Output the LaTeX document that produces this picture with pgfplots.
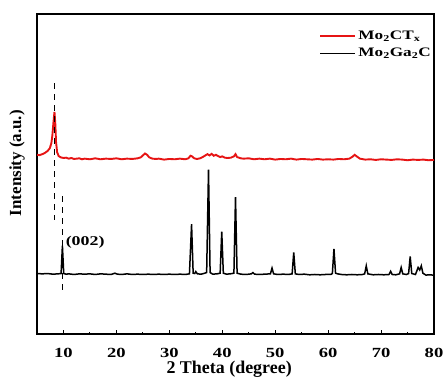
\documentclass[border=0pt]{standalone}
\usepackage{fontspec}
\setmainfont{Liberation Serif}
\newfontfamily\wide{Liberation Serif}[FakeStretch=1.33]
\usepackage{pgfplots}
\pgfplotsset{compat=1.18}
\definecolor{xred}{RGB}{230,20,20}
\begin{document}
\begin{tikzpicture}
\begin{axis}[name=ax, scale only axis, width=397bp, height=320bp,
  xmin=5, xmax=80, ymin=0, ymax=100,
  xtick={10,20,...,80}, minor xtick={5,15,...,75}, ytick=\empty,
  xtick pos=left, tick align=inside,
  major tick length=4bp, minor tick length=2.5bp,
  axis line style={line width=1.4bp},
  every tick/.style={black, line width=1bp},
  /pgf/number format/assume math mode=true,
  xticklabel style={font=\wide\fontsize{14}{16}\selectfont\bfseries, anchor=center, yshift=-19bp, inner sep=1bp},
  every axis x label/.style={at={(axis description cs:0.484,0)}, anchor=center, yshift=-35bp, inner sep=1bp, font=\fontsize{18}{20}\selectfont\bfseries},
  every axis y label/.style={at={(axis description cs:-0.05,0.534)}, rotate=90, anchor=center, font=\fontsize{17}{20}\selectfont\bfseries},
  xlabel={2 Theta (degree)}, ylabel={Intensity (a.u.)},
  legend style={at={(axis description cs:1,1)}, anchor=north east, xshift=0bp, yshift=-14bp, draw=none, fill=none, font=\wide\fontsize{13}{15.5}\selectfont\bfseries, row sep=3bp, inner sep=1bp},
  legend cell align=left,
  legend image code/.code={\draw[#1] (0bp,0bp) -- (35bp,0bp);},
]
\addplot[xred, line width=1.9bp] coordinates {
(5,56.0)(5.5,55.9)(6,56.2)(6.5,56.6)(7,57.2)(7.4,58.0)(7.7,59.5)(7.9,62)(8.1,66)(8.3,69.4)(8.45,66)(8.6,60)(8.8,56.8)(9.1,55.6)(9.5,55.2)(10,55.0)(10.5,55.1)(11,54.8)(11.5,55.0)(12,54.7)(13,54.9)(13.5,54.6)(14,54.8)(15,54.6)(16,54.9)(17,54.6)(18,54.8)(19,54.7)(20,54.9)(21,54.6)(22,54.8)(23,54.7)(24,54.9)(24.6,55.2)(25.0,55.8)(25.4,56.4)(25.8,56.0)(26.2,55.2)(26.8,54.8)(27.5,54.7)(28,54.8)(29,54.5)(30,54.7)(31,54.6)(32,54.8)(33,54.6)(33.6,54.9)(34.0,55.7)(34.3,55.5)(34.7,54.9)(35.2,54.7)(35.8,54.9)(36.3,55.3)(36.8,55.8)(37.2,56.2)(37.6,55.8)(38,56.3)(38.4,55.7)(38.8,56.0)(39.2,55.6)(39.6,55.3)(40,55.5)(40.5,55.1)(41,55.0)(41.6,55.1)(42.2,55.5)(42.5,56.2)(42.8,55.3)(43.5,54.9)(44,54.8)(45,54.9)(46,54.6)(47,54.8)(48,54.6)(49,54.8)(50,54.5)(51,54.7)(52,54.6)(53,54.8)(54,54.5)(55,54.7)(56,54.6)(57,54.5)(58,54.7)(59,54.5)(60,54.6)(61,54.5)(62,54.7)(63,54.6)(64,54.8)(64.6,55.4)(65.0,56.0)(65.4,55.5)(66,54.8)(67,54.5)(68,54.6)(69,54.4)(70,54.6)(71,54.5)(72,54.4)(73,54.6)(74,54.5)(75,54.3)(76,54.5)(77,54.4)(78,54.5)(79,54.3)(80,54.4)
};
\addlegendentry{Mo\textsubscript{2}CT\textsubscript{x}}
\addplot[black, line width=1.5bp] coordinates {
(5,18.9)(6,18.8)(7,18.9)(8,18.7)(9,18.8)(9.55,18.9)(9.8,27.6)(10.05,18.9)(10.5,18.7)(11,18.8)(12,18.6)(13,18.8)(14,18.7)(15,18.8)(16,18.6)(17,18.8)(18,18.7)(19,18.6)(19.7,19.0)(20.2,18.7)(21,18.6)(22,18.8)(23,18.6)(24,18.7)(25,18.6)(26,18.7)(27,18.6)(28,18.7)(29,18.6)(30,18.7)(31,18.6)(32,18.7)(33,18.6)(33.8,18.8)(34.2,34.3)(34.5,19.0)(34.8,18.9)(35.0,19.5)(35.3,18.8)(36,18.7)(36.5,18.9)(37.05,19.2)(37.4,51.4)(37.7,19.2)(38.2,18.7)(39,18.8)(39.6,19.0)(39.9,32.0)(40.2,19.0)(40.8,18.7)(41.5,18.8)(42.2,19.0)(42.5,42.8)(42.8,19.0)(43.5,18.7)(44.5,18.6)(45.5,18.8)(45.8,19.2)(46.1,18.7)(47,18.6)(48,18.7)(49.1,18.8)(49.4,20.6)(49.7,18.8)(50.5,18.6)(51.5,18.7)(52.5,18.6)(53.2,18.8)(53.5,25.5)(53.8,18.8)(54.5,18.6)(55.5,18.7)(56.5,18.5)(57.5,18.6)(58.5,18.5)(59.5,18.6)(60.5,18.6)(60.8,18.9)(61.1,26.6)(61.4,19.0)(61.8,18.8)(62.5,18.6)(63.5,18.5)(64.5,18.6)(65.5,18.5)(66.5,18.6)(66.9,18.8)(67.2,21.3)(67.5,18.8)(68.5,18.5)(69.5,18.6)(70.5,18.5)(71.5,18.6)(71.8,19.6)(72.1,18.6)(72.8,18.5)(73.5,18.8)(73.8,20.8)(74.1,18.8)(74.8,18.6)(75.2,18.9)(75.5,24.2)(75.8,18.9)(76.5,18.6)(77.0,20.8)(77.3,20.0)(77.6,21.3)(77.9,19.0)(78.5,18.4)(79,18.5)(80,18.4)
};
\addlegendentry{Mo\textsubscript{2}Ga\textsubscript{2}C}
\addplot[black, line width=1bp, dash pattern=on 6bp off 5bp, forget plot] coordinates {(8.3,78.4)(8.3,35.6)};
\addplot[black, line width=1bp, dash pattern=on 6bp off 5bp, forget plot] coordinates {(9.8,43)(9.8,13)};
\node[anchor=west, font=\wide\fontsize{13.5}{15}\selectfont\bfseries, inner sep=0pt] at (axis cs:10.4,28.75) {(002)};
\end{axis}
\pgfresetboundingbox
\path[use as bounding box] ([xshift=-37bp,yshift=-51bp]ax.south west) rectangle ([xshift=9bp,yshift=14bp]ax.north east);
\end{tikzpicture}
\end{document}
